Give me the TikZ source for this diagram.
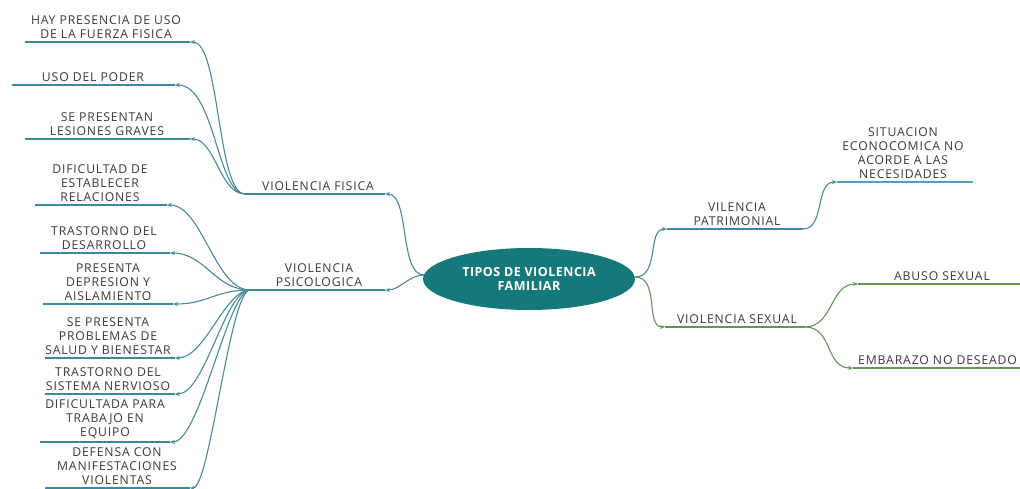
\documentclass[tikz,border=0pt]{standalone}
\usepackage{fontspec}
\setmainfont{Open Sans}
\newfontfamily\lblfont[LetterSpace=7]{Open Sans}
\newfontfamily\corefont[LetterSpace=4]{Open Sans}
\usetikzlibrary{arrows.meta,shapes.geometric}
\definecolor{ul}{HTML}{3A88A2}
\definecolor{ulb}{HTML}{4AA3C2}
\definecolor{cn}{HTML}{4A8898}
\definecolor{core}{HTML}{15787A}
\definecolor{gr}{HTML}{5E9A4C}
\definecolor{grc}{HTML}{6A8F5E}
\definecolor{tx}{HTML}{383838}
\tikzset{
  lbl/.style={font=\lblfont\fontsize{12.2}{14.2}\selectfont, text=tx, align=center, inner sep=0pt, anchor=south},
  uline/.style={line width=2.9pt, draw=ul},
  ulineb/.style={line width=2.6pt, draw=ulb},
  ulineg/.style={line width=2.6pt, draw=gr},
  conn/.style={line width=1.1pt, draw=cn, -{Stealth[length=5pt,width=4pt]}},
  conng/.style={line width=1.1pt, draw=grc, -{Stealth[length=5pt,width=4pt]}},
  corestyle/.style={ellipse, fill=core, text=white, minimum width=212pt, minimum height=62pt, inner sep=0pt, align=center, font=\corefont\bfseries\fontsize{12.5}{13.5}\selectfont}
}
\begin{document}
\begin{tikzpicture}[x=1pt,y=-1pt]
\useasboundingbox (0,0) rectangle (1020,489);
% central node
\node[corestyle] (core) at (529,279) {TIPOS DE VIOLENCIA\\FAMILIAR};
\coordinate (coreW) at (424,275);
\coordinate (coreE) at (635,277);

% main branch underlines
\coordinate (fisL) at (245,194); \coordinate (fisR) at (385,194);
\coordinate (psiL) at (250,290); \coordinate (psiR) at (385,290);
\coordinate (patL) at (667,229); \coordinate (patR) at (803,229);
\coordinate (sexL) at (665,327); \coordinate (sexR) at (805,327);
\draw[uline] (fisL) -- (fisR);
\draw[uline] (psiL) -- (psiR);
\draw[uline] (patL) -- (patR);
\draw[ulineg] (sexL) -- (sexR);
\node[lbl] (fis) at (318,191) {VIOLENCIA FISICA};
\node[lbl] (psi) at (319,287) {VIOLENCIA\\PSICOLOGICA};
\node[lbl] (pat) at (737,226) {VILENCIA\\PATRIMONIAL};
\node[lbl] (sex) at (737,324) {VIOLENCIA SEXUAL};

% fisica children
\coordinate (f1L) at (25,42);  \coordinate (f1R) at (190,42);
\coordinate (f2L) at (12,85);  \coordinate (f2R) at (175,85);
\coordinate (f3L) at (25,139); \coordinate (f3R) at (190,139);
\draw[uline] (f1L) -- (f1R);
\draw[uline] (f2L) -- (f2R);
\draw[uline] (f3L) -- (f3R);
\node[lbl] (f1) at (106,39) {HAY PRESENCIA DE USO\\DE LA FUERZA FISICA};
\node[lbl] (f2) at (93,82) {USO DEL PODER};
\node[lbl] (f3) at (107,136) {SE PRESENTAN\\LESIONES GRAVES};

% psicologica children
\coordinate (p1L) at (35,205);  \coordinate (p1R) at (167,205);
\coordinate (p2L) at (40,253);  \coordinate (p2R) at (170,253);
\coordinate (p3L) at (43,304);  \coordinate (p3R) at (173,304);
\coordinate (p4L) at (45,358);  \coordinate (p4R) at (175,358);
\coordinate (p5L) at (45,394);  \coordinate (p5R) at (175,394);
\coordinate (p6L) at (40,442);  \coordinate (p6R) at (170,442);
\coordinate (p7L) at (45,488);  \coordinate (p7R) at (190,488);
\foreach \i in {1,...,7} {\draw[uline] (p\i L) -- (p\i R);}
\node[lbl] (p1) at (100,202) {DIFICULTAD DE\\ESTABLECER\\RELACIONES};
\node[lbl] (p2) at (104,250) {TRASTORNO DEL\\DESARROLLO};
\node[lbl] (p3) at (108,301) {PRESENTA\\DEPRESION Y\\AISLAMIENTO};
\node[lbl] (p4) at (108,355) {SE PRESENTA\\PROBLEMAS DE\\SALUD Y BIENESTAR};
\node[lbl] (p5) at (108,391) {TRASTORNO DEL\\SISTEMA NERVIOSO};
\node[lbl] (p6) at (105,439) {DIFICULTADA PARA\\TRABAJO EN\\EQUIPO};
\node[lbl] (p7) at (117,485) {DEFENSA CON\\MANIFESTACIONES\\VIOLENTAS};

% right children
\coordinate (sitL) at (837,182); \coordinate (sitR) at (973,182);
\coordinate (abuL) at (858,284); \coordinate (abuR) at (1020,284);
\coordinate (embL) at (853,368); \coordinate (embR) at (1020,368);
\draw[ulineb] (sitL) -- (sitR);
\draw[ulineg] (abuL) -- (abuR);
\draw[ulineg] (embL) -- (embR);
\node[lbl] (sit) at (903,179) {SITUACION\\ECONOCOMICA NO\\ACORDE A LAS\\NECESIDADES};
\node[lbl] (abu) at (942,281) {ABUSO SEXUAL};
\node[lbl, anchor=south west] (emb) at (858,365) {EMBARAZO NO DESEADO};

% connectors from core
\draw[conn] (coreW) .. controls +(-25,0) and +(25,0) .. (fisR);
\draw[conn] (coreW) .. controls +(-15,0) and +(15,0) .. (psiR);
\draw[conn] (coreE) .. controls +(25,0) and +(-20,0) .. (patL);
\draw[conng] (coreE) .. controls +(25,0) and +(-20,0) .. (sexL);

% fisica fan
\draw[conn] (fisL) .. controls +(-28,0) and +(30,0) .. (f1R);
\draw[conn] (fisL) .. controls +(-28,0) and +(40,0) .. (f2R);
\draw[conn] (fisL) .. controls +(-25,0) and +(25,0) .. (f3R);

% psicologica fan
\draw[conn] (psiL) .. controls +(-35,0) and +(35,0) .. (p1R);
\draw[conn] (psiL) .. controls +(-35,0) and +(35,0) .. (p2R);
\draw[conn] (psiL) .. controls +(-35,0) and +(35,0) .. (p3R);
\draw[conn] (psiL) .. controls +(-25,0) and +(30,0) .. (p4R);
\draw[conn] (psiL) .. controls +(-25,0) and +(30,0) .. (p5R);
\draw[conn] (psiL) .. controls +(-22,0) and +(30,0) .. (p6R);
\draw[conn] (psiL) .. controls +(-20,0) and +(20,0) .. (p7R);

% right fans
\draw[conn] (patR) .. controls +(22,0) and +(-22,0) .. (sitL);
\draw[conng] (sexR) .. controls +(28,0) and +(-28,0) .. (abuL);
\draw[conng] (sexR) .. controls +(28,0) and +(-28,0) .. (embL);
\end{tikzpicture}
\end{document}
